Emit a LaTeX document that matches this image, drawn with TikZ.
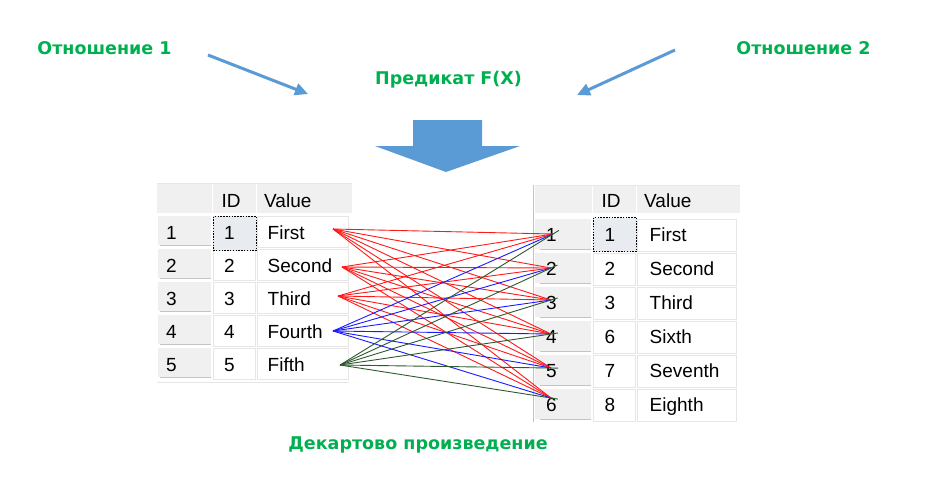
\documentclass[tikz,border=0pt]{standalone}
\usepackage{fontspec}
\setmainfont{Liberation Sans}
\newfontfamily\ttlfont{DejaVu Sans}
\usetikzlibrary{arrows.meta}
\definecolor{ttlgreen}{HTML}{00B050}
\definecolor{arrblue}{HTML}{5B9BD5}
\definecolor{hdrgray}{HTML}{F0F0F0}
\definecolor{gridgray}{HTML}{E6E6E6}
\definecolor{shadegray}{HTML}{C4C4C4}
\definecolor{selfill}{HTML}{E8ECF0}
\definecolor{lnred}{HTML}{FF1A1A}
\definecolor{lnblue}{HTML}{1A1AFF}
\definecolor{lngreen}{HTML}{2E5A2E}
\tikzset{
  ttl/.style={font=\ttlfont\bfseries\fontsize{17.5}{20}\selectfont, text=ttlgreen, inner sep=0pt, anchor=base},
  cell/.style={font=\fontsize{19}{22}\selectfont, inner sep=0pt, anchor=base west},
  cellc/.style={font=\fontsize{19}{22}\selectfont, inner sep=0pt, anchor=base},
  thinarrow/.style={arrblue, line width=3pt, -{Triangle[length=13pt,width=12pt]}},
  selbox/.style={draw=black, line width=1.5pt, dash pattern=on 1.5pt off 1.3pt, fill=selfill},
  gridcell/.style={draw=gridgray, fill=white, line width=0.8pt},
  rowhdr/.style={fill=hdrgray},
  link/.style={line width=0.9pt}
}
\begin{document}
\begin{tikzpicture}[x=1pt,y=-1pt]
\useasboundingbox[fill=white] (0,0) rectangle (949,491);

% titles
\node[ttl] (t1) at (104.5,54) {Отношение 1};
\node[ttl] (t2) at (803.5,54) {Отношение 2};
\node[ttl] (tp) at (448.5,84) {Предикат F(X)};
\node[ttl] (td) at (418,449) {Декартово произведение};

% thin arrows
\coordinate (a1s) at (208,55);
\coordinate (a1e) at (308,94);
\coordinate (a2s) at (675,50);
\coordinate (a2e) at (577,95);
\draw[thinarrow] (a1s) -- (a1e);
\draw[thinarrow] (a2s) -- (a2e);

% block arrow
\fill[arrblue] (413,120) -- (482,120) -- (482,146) -- (520,146) -- (446,172) -- (375,146) -- (413,146) -- cycle;

% ---------- left table ----------
\fill[hdrgray] (157,183) rectangle (352,213);
\draw[white, line width=1pt] (212,183) -- (212,213) (256,183) -- (256,213);
\draw[gridgray, line width=0.8pt] (157,183) -- (352,183);
\node[cellc] (lhid) at (231,207) {ID};
\node[cell] (lhval) at (264,207) {Value};
\foreach \i/\yt/\id/\val in {1/215/1/First,2/248/2/Second,3/281/3/Third,4/314/4/Fourth,5/347/5/Fifth}{
  \fill[rowhdr] (158,\yt+1) rectangle (211,\yt+30);
  \draw[shadegray, line width=1.2pt] (160,\yt+30.5) -- (211,\yt+30.5);
  \draw[gridcell] (213,\yt+1) rectangle (255,\yt+32);
  \draw[gridcell] (257,\yt+1) rectangle (348,\yt+32);
}
\draw[gridgray, line width=0.8pt] (157,382) -- (349,382);
\draw[selbox] (213.5,216.5) rectangle (256.5,250.5);
\foreach \i/\yt/\id/\val in {1/215/1/First,2/248/2/Second,3/281/3/Third,4/314/4/Fourth,5/347/5/Fifth}{
  \node[cell] (ln\i) at (166,\yt+24.5) {\i};
  \node[cellc] (lid\i) at (229.5,\yt+24.5) {\id};
  \node[cell] (lv\i) at (267.5,\yt+24.5) {\val};
}

% ---------- right table ----------
\fill[hdrgray] (535,185) rectangle (740,213);
\draw[white, line width=1pt] (592,185) -- (592,213) (636,185) -- (636,213);
\draw[gridgray, line width=0.8pt] (535,185) -- (740,185);
\draw[shadegray, line width=1pt] (533.5,185) -- (533.5,422);
\node[cellc] (rhid) at (611,207) {ID};
\node[cell] (rhval) at (644,207) {Value};
\foreach \i/\yt/\id/\val in {1/218/1/First,2/252/2/Second,3/286/3/Third,4/320/6/Sixth,5/354/7/Seventh,6/388/8/Eighth}{
  \fill[rowhdr] (535,\yt+1) rectangle (591,\yt+31);
  \draw[shadegray, line width=1.2pt] (540,\yt+31.5) -- (591,\yt+31.5);
  \draw[gridcell] (593,\yt+1) rectangle (635,\yt+33);
  \draw[gridcell] (637,\yt+1) rectangle (736,\yt+33);
}
\draw[selbox] (593.5,217.5) rectangle (636.5,251.5);
\foreach \i/\yt/\id/\val in {1/218/1/First,2/252/2/Second,3/286/3/Third,4/320/6/Sixth,5/354/7/Seventh,6/388/8/Eighth}{
  \node[cell] (rn\i) at (546,\yt+23.5) {\i};
  \node[cellc] (rid\i) at (610,\yt+23.5) {\id};
  \node[cell] (rv\i) at (649.5,\yt+23.5) {\val};
}

% ---------- connectors ----------
\coordinate (L1) at (333,229);
\coordinate (L2) at (342,267);
\coordinate (L3) at (338,296);
\coordinate (L4) at (333,331);
\coordinate (L5) at (340,365);
\coordinate (R1) at (553,234);
\coordinate (R2) at (551,268);
\coordinate (R3) at (551,300);
\coordinate (R4) at (551,334);
\coordinate (R5) at (551,368);
\coordinate (R6) at (551,398);
\foreach \l in {1,2,3}{
  \foreach \r in {1,...,6}{
    \draw[link, lnred] (L\l) -- (R\r);
  }
}
\foreach \r in {1,...,6}{
  \draw[link, lnblue] (L4) -- (R\r);
}
\foreach \r in {1,...,6}{
  \draw[link, lngreen, shorten >=-7pt] (L5) -- (R\r);
}
\end{tikzpicture}
\end{document}
